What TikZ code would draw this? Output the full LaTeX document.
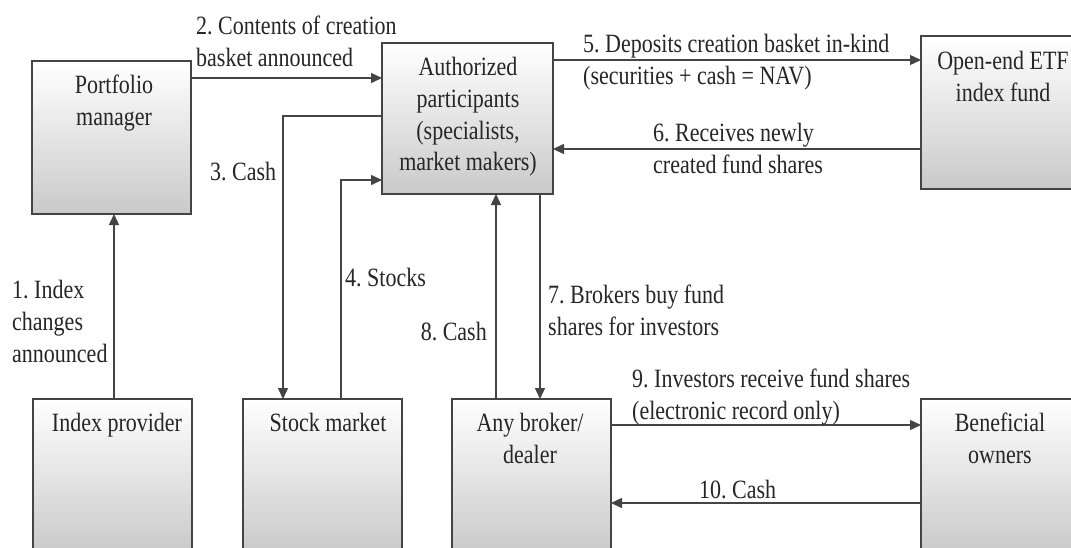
\documentclass[tikz,border=0pt]{standalone}
\usepackage{fontspec}
\setmainfont{Liberation Serif}
\usetikzlibrary{arrows.meta}
\definecolor{txt}{HTML}{262626}
\definecolor{ln}{HTML}{444444}
\frenchspacing
\begin{document}
\begin{tikzpicture}[x=1pt,y=-1pt,
  box/.style={draw=ln, line width=1.3pt, top color=white, middle color=white, bottom color=black!21,
    minimum width=159pt, minimum height=153pt, anchor=north west, inner sep=0pt, outer sep=0pt},
  lab/.style={font=\fontsize{22}{26.5}\selectfont\frenchspacing, text=txt, inner sep=0pt, yscale=1.2, transform shape, align=left},
  btxt/.style={lab, align=center, anchor=north},
  arr/.style={draw=ln, line width=1.4pt, -{Triangle[length=11pt,width=10pt]}}
]
\useasboundingbox (0,0) rectangle (1071,547);
\clip (0,0) rectangle (1071,547);
\fill[white] (0,0) rectangle (1071,547);

% boxes
\node[box] (pm) at (32,61) {};
\node[box, minimum width=171pt, minimum height=151pt] (ap) at (382,43) {};
\node[box] (etf) at (921,36) {};
\node[box] (ip) at (33,399) {};
\node[box] (sm) at (243,399) {};
\node[box] (bd) at (452,399) {};
\node[box] (bo) at (921,399) {};

% box texts
\node[btxt] (pmt) at (114,75) {Portfolio\\manager};
\node[btxt] (apt) at (468,57) {Authorized\\participants\\(specialists,\\market makers)};
\node[btxt] (etft) at (1003,51) {Open-end ETF\\index fund};
\node[btxt] (ipt) at (117,413) {Index provider};
\node[btxt] (smt) at (328,413) {Stock market};
\node[btxt] (bdt) at (530,413) {Any broker/\\dealer};
\node[btxt] (bot) at (1000,413) {Beneficial\\owners};

% connectors
\draw[arr] (ip.north -| 114,0) -- (pm.south -| 114,0);
\draw[arr] (pm.east |- 0,78) -- (ap.west |- 0,78);
\draw[arr] (ap.west |- 0,116) -| (sm.north -| 283,0);
\draw[arr] (sm.north -| 341,0) |- (ap.west |- 0,180);
\draw[arr] (ap.east |- 0,60) -- (etf.west |- 0,60);
\draw[arr] (etf.west |- 0,149) -- (ap.east |- 0,149);
\draw[arr] (ap.south -| 540,0) -- (bd.north -| 540,0);
\draw[arr] (bd.north -| 496,0) -- (ap.south -| 496,0);
\draw[arr] (bd.east |- 0,425) -- (bo.west |- 0,425);
\draw[arr] (bo.west |- 0,503) -- (bd.east |- 0,503);

% labels
\node[lab, anchor=north west] (l1) at (12,280) {1. Index\\changes\\announced};
\node[lab, anchor=north west] (l2) at (196,16) {2. Contents of creation\\basket announced};
\node[lab, anchor=west] (l3) at (210,172) {3. Cash};
\node[lab, anchor=west] (l4) at (345,278) {4. Stocks};
\node[lab, anchor=north west] (l5) at (583,34) {5. Deposits creation basket in-kind\\(securities + cash = NAV)};
\node[lab, anchor=north west] (l6) at (653,123) {6. Receives newly\\created fund shares};
\node[lab, anchor=north west] (l7) at (548,285) {7. Brokers buy fund\\shares for investors};
\node[lab, anchor=east] (l8) at (487,332) {8. Cash};
\node[lab, anchor=north west] (l9) at (632,369) {9. Investors receive fund shares\\(electronic record only)};
\node[lab, anchor=west] (l10) at (699,490) {10. Cash};
\end{tikzpicture}
\end{document}
